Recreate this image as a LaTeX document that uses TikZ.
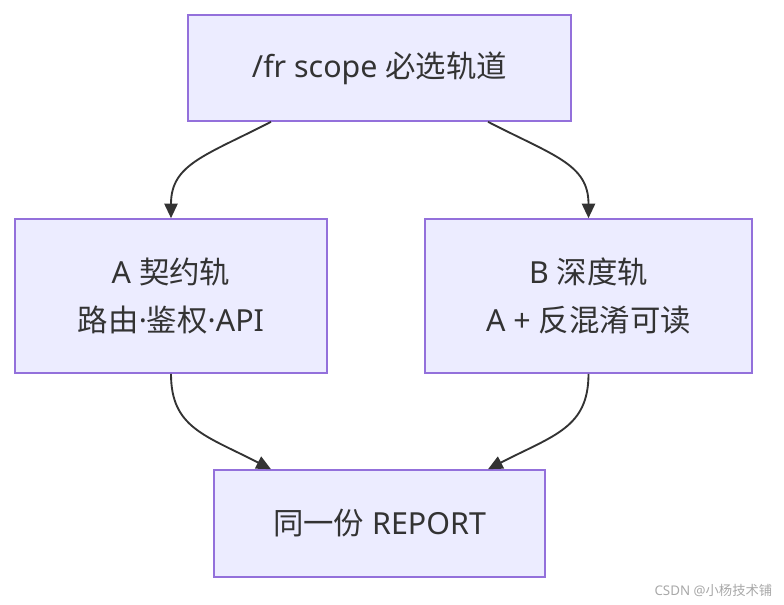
\documentclass[tikz,border=0pt]{standalone}
\usepackage{fontspec}
\setmainfont{Noto Sans}
\newfontfamily\cjk{Noto Sans CJK SC}
\usetikzlibrary{calc,positioning,arrows.meta}
\definecolor{boxfill}{HTML}{ECECFF}
\definecolor{boxline}{HTML}{9370DB}
\definecolor{edgeline}{HTML}{333333}
\definecolor{marktext}{HTML}{A8A8A8}
\tikzset{
    railbox/.style={draw=boxline, line width=1.2pt, fill=boxfill, text=edgeline,
        align=center, inner sep=0pt, font=\fontsize{22.8}{36}\selectfont},
    flow/.style={draw=edgeline, line width=1.4pt,
        -{Triangle[length=11pt,width=10pt]}}
}

\begin{document}
\begin{tikzpicture}[x=0.75pt,y=-0.75pt]
        \useasboundingbox (0,0) rectangle (784,604);

        % the four boxes of the flow
        \node[railbox, minimum width=287.25pt, minimum height=79.5pt] (scope) at (379.5,68) {/fr scope {\cjk 必选轨道}};
        \node[railbox, minimum width=234pt, minimum height=115.5pt] (railA) at (171,296) {A {\cjk 契约轨}\\{\cjk 路由}·{\cjk 鉴权}·API};
        \node[railbox, minimum width=245.25pt, minimum height=115.5pt] (railB) at (588.5,296) {B {\cjk 深度轨}\\A + {\cjk 反混淆可读}};
        \node[railbox, minimum width=248.25pt, minimum height=80.25pt] (report) at (379.5,523.5) {{\cjk 同一份} REPORT};

        % curved edges
        \draw[flow] ($(scope.south)+(-108.5,0)$) .. controls +(-66,34) and +(0,-54) .. (railA.north);
        \draw[flow] ($(scope.south)+(108.5,0)$) .. controls +(66,34) and +(0,-54) .. (railB.north);
        \draw[flow] (railA.south) .. controls +(0,54) and +(-66,-34) .. ($(report.north)+(-108.5,0)$);
        \draw[flow] (railB.south) .. controls +(0,54) and +(66,-34) .. ($(report.north)+(108.5,0)$);

        % watermark
        \node[text=marktext, font=\fontsize{10}{12}\selectfont, anchor=east] (mark) at (777,590) {CSDN @{\cjk 小杨技术铺}};

\end{tikzpicture}
\end{document}
